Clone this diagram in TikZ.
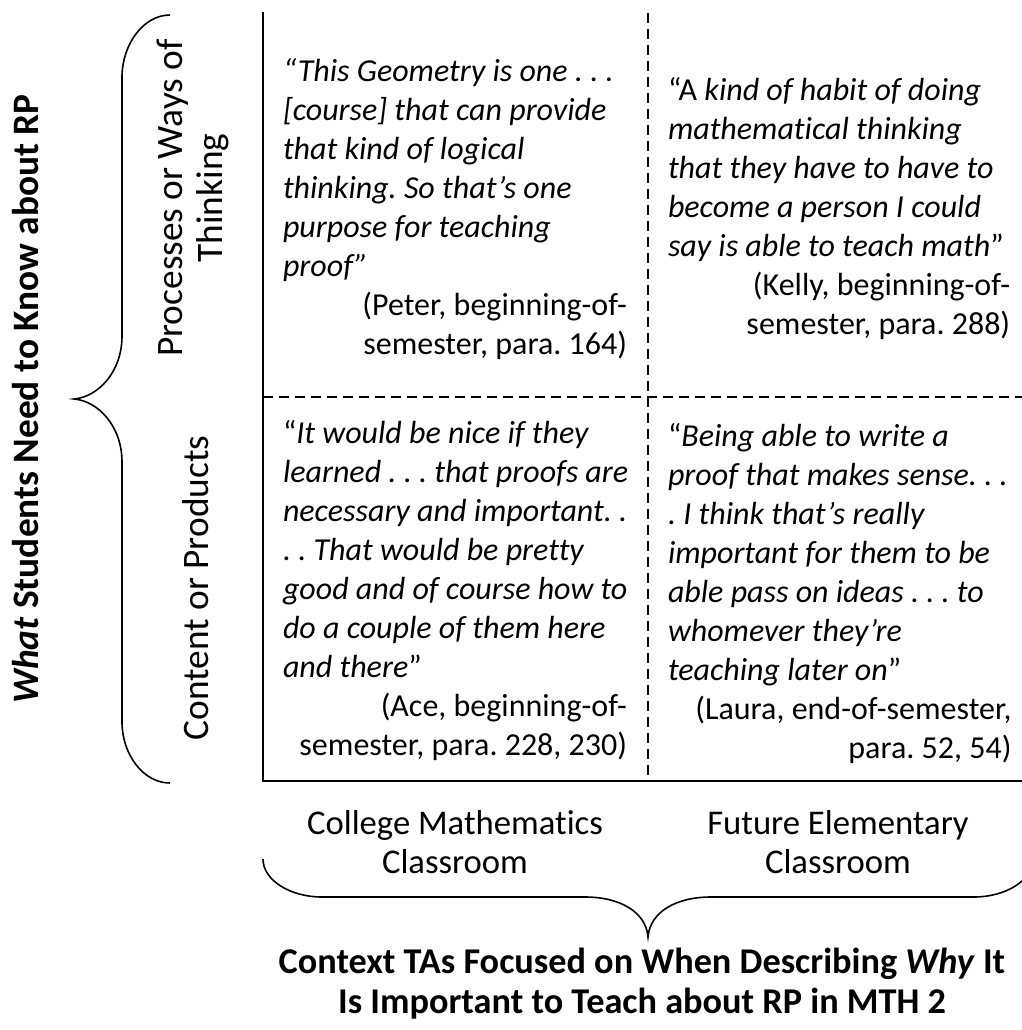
\documentclass[tikz,border=0pt]{standalone}
\usepackage{fontspec}
\setmainfont{Carlito}[Ligatures=NoCommon]
\frenchspacing
% right-aligned attribution line of a given width
\newcommand{\attrline}[2]{\makebox[#1][r]{#2}}
\begin{document}
\begin{tikzpicture}[x=0.375pt,y=-0.375pt,
  every node/.style={inner sep=0pt, outer sep=0pt, font=\fontsize{12}{14.65}\selectfont},
  axisline/.style={line width=1pt, line cap=rect},
  cellsep/.style={line width=0.75pt, dash pattern=on 3.6pt off 2.4pt},
  bracepath/.style={line width=0.6pt},
  quotebox/.style={anchor=base west},
  label/.style={anchor=base, font=\fontsize{13}{14.65}\selectfont},
  vlabel/.style={anchor=base, rotate=90, font=\fontsize{14}{15}\selectfont},
  heading/.style={anchor=base, font=\fontsize{13.6}{15.2}\selectfont\bfseries},
]
\fill[white] (0,0) rectangle (1022,1030);
\clip (0,0) rectangle (1022,1030);

% corners of the grid
\coordinate (tl) at (263,13);
\coordinate (bl) at (263,781);
\coordinate (br) at (1022,781);
\coordinate (mt) at (648,13);
\coordinate (mb) at (648,781);
\coordinate (ml) at (263,397);
\coordinate (mr) at (1022,397);

% axes and cell separators
\draw[axisline] (tl) -- (bl) -- (br);
\draw[cellsep] (mt) -- (mb);
\draw[cellsep] (ml) -- (mr);

% vertical brace on the left
\draw[bracepath] (170,15) .. controls (143,15) and (122,45) .. (122,77)
  -- (122,336) .. controls (122,372) and (98,397) .. (74,399)
  .. controls (98,401) and (122,426) .. (122,462)
  -- (122,722) .. controls (122,754) and (143,783) .. (170,783);

% horizontal brace at the bottom
\draw[bracepath] (263,859) .. controls (263,880) and (290,897) .. (322,897)
  -- (585,897) .. controls (620,897) and (646,912) .. (648,937)
  .. controls (650,912) and (676,897) .. (711,897)
  -- (974,897) .. controls (1006,897) and (1033,880) .. (1033,859);

% quotes
\node[quotebox] (qul) at (283,81) {\begin{tabular}[t]{@{}l@{}}
\textit{“This Geometry is one . . .}\\
\textit{[course] that can provide}\\
\textit{that kind of logical}\\
\textit{thinking. So that’s one}\\
\textit{purpose for teaching}\\
\textit{proof”}\\
\attrline{129pt}{(Peter, beginning-of-}\\
\attrline{129pt}{semester, para. 164)}
\end{tabular}};

\node[quotebox] (qur) at (668,100) {\begin{tabular}[t]{@{}l@{}}
“A \textit{kind of habit of doing}\\
\textit{mathematical thinking}\\
\textit{that they have to have to}\\
\textit{become a person I could}\\
\textit{say is able to teach math}”\\
\attrline{128.3pt}{(Kelly, beginning-of-}\\
\attrline{128.3pt}{semester, para. 288)}
\end{tabular}};

\node[quotebox] (qll) at (283,443) {\begin{tabular}[t]{@{}l@{}}
“\textit{It would be nice if they}\\
\textit{learned . . . that proofs are}\\
\textit{necessary and important. .}\\
\textit{. . That would be pretty}\\
\textit{good and of course how to}\\
\textit{do a couple of them here}\\
\textit{and there}”\\
\attrline{129pt}{(Ace, beginning-of-}\\
\attrline{129pt}{semester, para. 228, 230)}
\end{tabular}};

\node[quotebox] (qlr) at (668,446) {\begin{tabular}[t]{@{}l@{}}
“\textit{Being able to write a}\\
\textit{proof that makes sense. . .}\\
\textit{. I think that’s really}\\
\textit{important for them to be}\\
\textit{able pass on ideas . . . to}\\
\textit{whomever they’re}\\
\textit{teaching later on}”\\
\attrline{128.8pt}{(Laura, end-of-semester,}\\
\attrline{128.8pt}{para. 52, 54)}
\end{tabular}};

% row labels
\node[vlabel] (rowtop) at (182,198) {\begin{tabular}[t]{@{}c@{}}Processes or Ways of\\Thinking\end{tabular}};
\node[vlabel] (rowbot) at (208,588) {Content or Products};
\node[vlabel, font=\fontsize{14}{15}\selectfont\bfseries] (rowtitle) at (38,399) {\textit{What} Students Need to Know about RP};

% column labels
\node[label] (colleft) at (455,834) {\begin{tabular}[t]{@{}c@{}}College Mathematics\\Classroom\end{tabular}};
\node[label] (colright) at (838,834) {\begin{tabular}[t]{@{}c@{}}Future Elementary\\Classroom\end{tabular}};
\node[heading] (coltitle) at (642,973) {\begin{tabular}[t]{@{}c@{}}Context TAs Focused on When Describing \textit{Why} It\\Is Important to Teach about RP in MTH 2\end{tabular}};
\end{tikzpicture}
\end{document}
